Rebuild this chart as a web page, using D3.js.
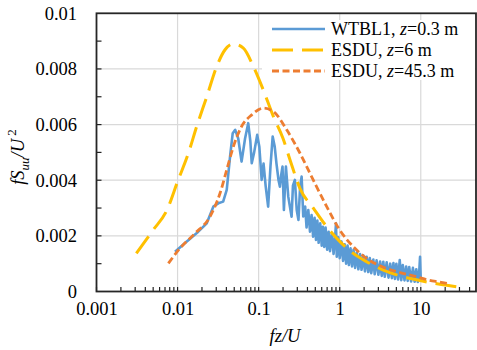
<!DOCTYPE html>
<html>
<head>
<meta charset="utf-8">
<script src="https://cdn.jsdelivr.net/npm/d3@7"></script>
<style>
  body { margin: 0; background: #fff; }
  svg text { font-family: "Liberation Serif", "Times New Roman", Times, "DejaVu Serif", serif !important; fill: #000; }
</style>
</head>
<body>
<script>
// tick values / labels
let xTicks = [0.001, 0.01, 0.1, 1, 10];
let xTickLabels = ["0.001", "0.01", "0.1", "1", "10"];
let yTicks = [0, 0.002, 0.004, 0.006, 0.008, 0.01];
let yTickLabels = ["0", "0.002", "0.004", "0.006", "0.008", "0.01"];

// series names
let seriesNames = ["WTBL1, ", "ESDU, ", "ESDU, "];
let seriesZ = ["=0.3 m", "=6 m", "=45.3 m"];

// ESDU, z=6 m
let esdu6X = [0.0031, 0.005, 0.0074, 0.01, 0.0136, 0.0172, 0.0229, 0.0304, 0.0385, 0.0487,
              0.0648, 0.0861, 0.114, 0.152, 0.2, 0.244, 0.324, 0.473, 0.692, 1.0,
              1.47, 2.15, 3.46, 5.56, 8.9, 13, 20, 29];
let esdu6Y = [0.00137, 0.00221, 0.00293, 0.00395, 0.00497, 0.00593, 0.0070, 0.00809, 0.00869, 0.0089,
              0.00875, 0.00809, 0.00725, 0.00629, 0.0055, 0.00473, 0.0037, 0.0030, 0.00233, 0.0018,
              0.00137, 0.00107, 0.00077, 0.00056, 0.00042, 0.00032, 0.00023, 0.00016];

// ESDU, z=45.3 m
let esdu45X = [0.0077, 0.0107, 0.0164, 0.0251, 0.0334, 0.0404, 0.0488, 0.0616, 0.0822, 0.114,
               0.152, 0.222, 0.324, 0.473, 0.692, 1.0, 1.47, 2.15, 3.46, 5.56,
               8.9, 12.5, 17, 23];
let esdu45Y = [0.00101, 0.00155, 0.00209, 0.00269, 0.00353, 0.00437, 0.00521, 0.00593, 0.00635, 0.00659,
               0.00647, 0.00581, 0.00497, 0.0040, 0.00305, 0.00221, 0.00161, 0.00119, 0.00087, 0.00068,
               0.00053, 0.00041, 0.00034, 0.00027];

// WTBL1, z=0.3 m
let wtblX = [0.0093, 0.0129, 0.018, 0.0229, 0.0276, 0.0318, 0.0365, 0.0404, 0.0444, 0.0479,
             0.0514, 0.056, 0.0616, 0.068, 0.0744, 0.079, 0.0822, 0.088, 0.096, 0.102,
             0.109, 0.115, 0.122, 0.131, 0.14, 0.149, 0.158, 0.166, 0.176, 0.183,
             0.19, 0.197, 0.205, 0.217, 0.232, 0.243, 0.255, 0.265, 0.28, 0.295,
             0.31, 0.325, 0.339, 0.355, 0.375, 0.39, 0.41, 0.43, 0.45, 0.47,
             0.49, 0.51, 0.53, 0.55, 0.575, 0.6, 0.62, 0.645, 0.67, 0.7,
             0.73, 0.76, 0.8, 0.84, 0.88, 0.9, 0.92, 0.96, 1.0, 1.05,
             1.1, 1.15, 1.2, 1.25, 1.3, 1.36, 1.42, 1.48, 1.55, 1.62,
             1.7, 1.78, 1.86, 1.95, 2.05, 2.15, 2.25, 2.35, 2.45, 2.6,
             2.7, 2.85, 3.0, 3.15, 3.3, 3.45, 3.6, 3.8, 4.0, 4.2,
             4.4, 4.6, 4.8, 5.0, 5.25, 5.5, 5.75, 6.0, 6.3, 6.6,
             6.9, 7.2, 7.6, 8.0, 8.4, 8.8, 9.2, 9.6, 9.8, 10.0];
let wtblY = [0.00143, 0.00179, 0.00215, 0.00245, 0.00305, 0.00317, 0.00323, 0.00365, 0.00485, 0.00569,
             0.00581, 0.0055, 0.00467, 0.0055, 0.00605, 0.0054, 0.00461, 0.005, 0.00563, 0.0052,
             0.00401, 0.0046, 0.0038, 0.00305, 0.0045, 0.00557, 0.0052, 0.0046, 0.004, 0.00377,
             0.0042, 0.00449, 0.00293, 0.00449, 0.00341, 0.00305, 0.00269, 0.0038, 0.00401, 0.00293,
             0.00257, 0.00377, 0.00413, 0.0027, 0.00305, 0.0023, 0.00293, 0.00215, 0.00275, 0.00197,
             0.00265, 0.00185, 0.00255, 0.00175, 0.00245, 0.00165, 0.00233, 0.0016, 0.0023, 0.0015,
             0.00215, 0.00145, 0.0021, 0.00135, 0.002, 0.00245, 0.00125, 0.00195, 0.0012, 0.0018,
             0.0011, 0.0017, 0.001, 0.00165, 0.00095, 0.00155, 0.0009, 0.0015, 0.00085, 0.0014,
             0.0008, 0.00135, 0.00078, 0.0013, 0.00072, 0.00125, 0.0007, 0.0012, 0.00066, 0.00115,
             0.00062, 0.00112, 0.0006, 0.00108, 0.00056, 0.00107, 0.00053, 0.00105, 0.0005, 0.001,
             0.00048, 0.00102, 0.00045, 0.001, 0.00043, 0.00113, 0.00041, 0.00095, 0.0004, 0.0009,
             0.00038, 0.00088, 0.00036, 0.00085, 0.00035, 0.0008, 0.00034, 0.00078, 0.00125, 0.0004];

let w = 477, h = 350;
let padLeft = 96.5, padRight = 476, padTop = 13.3, padBottom = 291.5;
let serif = '"Liberation Serif", "Times New Roman", Times, "DejaVu Serif", serif';

let svg = d3.select('body').append('svg')
  .attr('width', w)
  .attr('height', h)
  .attr('font-family', serif);

let xScale = d3.scaleLog().domain([0.001, 48]).range([padLeft, padRight]);
let yScale = d3.scaleLinear().domain([0, 0.01]).range([padBottom, padTop]);

// gridlines
svg.append('g').selectAll('line')
   .data(xTicks.slice(1))
   .enter().append('line')
   .attr('x1', d => xScale(d)).attr('x2', d => xScale(d))
   .attr('y1', padTop).attr('y2', padBottom)
   .attr('stroke', '#d9d9d9').attr('stroke-width', 1.2);

svg.append('g').selectAll('line')
   .data(yTicks.slice(1, -1))
   .enter().append('line')
   .attr('x1', padLeft).attr('x2', padRight)
   .attr('y1', d => yScale(d)).attr('y2', d => yScale(d))
   .attr('stroke', '#d9d9d9').attr('stroke-width', 1.2);

// series
let line = d3.line()
  .x(d => xScale(d[0]))
  .y(d => yScale(d[1]));

let series = [
  {x: wtblX, y: wtblY, color: '#5b9bd5', width: 2.6, dash: null, curve: d3.curveLinear},
  {x: esdu6X, y: esdu6Y, color: '#ffc000', width: 3, dash: '21,9', curve: d3.curveMonotoneX},
  {x: esdu45X, y: esdu45Y, color: '#ed7d31', width: 2.8, dash: '7,3.5', curve: d3.curveMonotoneX}
];

series.forEach(s => {
  svg.append('path')
     .datum(s.x.map((v, i) => [v, s.y[i]]))
     .attr('d', line.curve(s.curve))
     .attr('fill', 'none')
     .attr('stroke', s.color)
     .attr('stroke-width', s.width)
     .attr('stroke-linejoin', 'round')
     .attr('stroke-dasharray', s.dash);
});

// minor ticks (inside)
let minorX = [];
xTicks.forEach(dec => {
  for (let k = 1; k <= 9; k++) if (dec * k < 48) minorX.push(dec * k);
});
svg.append('g').selectAll('line')
   .data(minorX)
   .enter().append('line')
   .attr('x1', d => xScale(d)).attr('x2', d => xScale(d))
   .attr('y1', padBottom).attr('y2', padBottom - 4.5)
   .attr('stroke', '#222').attr('stroke-width', 1.2);

let minorY = d3.range(1, 10).map(i => i / 1000);
svg.append('g').selectAll('line')
   .data(minorY)
   .enter().append('line')
   .attr('x1', padLeft).attr('x2', padLeft + 5)
   .attr('y1', d => yScale(d)).attr('y2', d => yScale(d))
   .attr('stroke', '#222').attr('stroke-width', 1.2);

// frame
svg.append('rect')
   .attr('x', padLeft).attr('y', padTop)
   .attr('width', padRight - padLeft).attr('height', padBottom - padTop)
   .attr('fill', 'none').attr('stroke', '#262626').attr('stroke-width', 1.8);

// axes labels
let xAxis = d3.axisBottom(xScale).tickValues(xTicks).tickSize(0).tickPadding(0)
  .tickFormat((d, i) => xTickLabels[i]);
let gx = svg.append('g').attr('transform', 'translate(0,' + padBottom + ')').call(xAxis)
  .attr('font-family', serif).attr('font-size', 18.5);
gx.select('.domain').remove();
gx.selectAll('text').attr('dy', null).attr('y', 23.5);

let yAxis = d3.axisLeft(yScale).tickValues(yTicks).tickSize(0).tickPadding(0)
  .tickFormat((d, i) => yTickLabels[i]);
let gy = svg.append('g').attr('transform', 'translate(' + padLeft + ',0)').call(yAxis)
  .attr('font-family', serif).attr('font-size', 18.5);
gy.select('.domain').remove();
gy.selectAll('text').attr('x', -19.5);

// axis titles
let xt = svg.append('text')
  .attr('x', 285).attr('y', 342)
  .attr('text-anchor', 'middle')
  .style('font-size', '18.5px').style('font-style', 'italic');
xt.text('fz/U');

let yt = svg.append('text')
  .attr('transform', 'translate(24,157) rotate(-90)')
  .attr('text-anchor', 'middle')
  .style('font-size', '18.5px').style('font-style', 'italic');
yt.append('tspan').text('fS');
yt.append('tspan').text('uu').attr('dy', 5).style('font-size', '13px');
yt.append('tspan').text('/U').attr('dy', -5);
yt.append('tspan').text(' 2').attr('dy', -8).style('font-size', '13px').style('font-style', 'normal');

// legend
svg.append('rect')
   .attr('x', 262).attr('y', 20).attr('width', 213).attr('height', 60)
   .attr('fill', '#fff');

let legY = [29, 50, 71];
series.forEach((s, i) => {
  svg.append('line')
     .attr('x1', 272).attr('x2', 325)
     .attr('y1', legY[i]).attr('y2', legY[i])
     .attr('stroke', s.color)
     .attr('stroke-width', s.width)
     .attr('stroke-dasharray', s.dash);
  let t = svg.append('text')
     .attr('x', 331).attr('y', legY[i])
     .attr('dy', '0.35em')
     .style('font-size', '18px');
  t.append('tspan').text(seriesNames[i]);
  t.append('tspan').text('z').style('font-style', 'italic');
  t.append('tspan').text(seriesZ[i]);
});
</script>
</body>
</html>
